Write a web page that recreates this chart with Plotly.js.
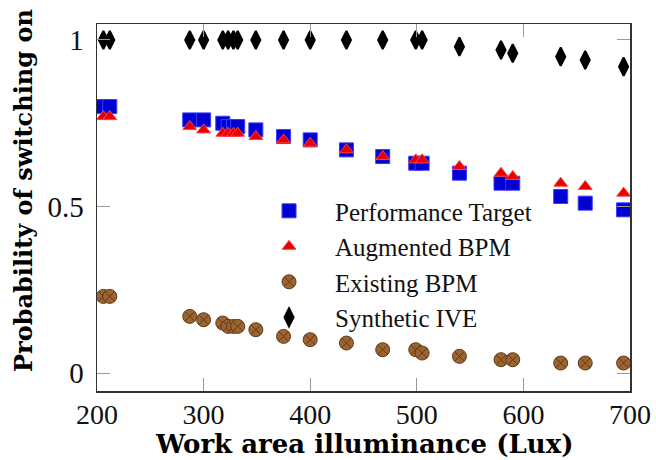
<!DOCTYPE html>
<html>
<head>
<meta charset="utf-8">
<script src="https://cdn.plot.ly/plotly-3.0.1.min.js"></script>
<style>html,body{margin:0;padding:0;background:#fff;}#chart{width:656px;height:460px;}</style>
</head>
<body>
<div id="chart"></div>
<script>
// Work area illuminance (Lux)
const lux = [206, 212, 287, 300, 318, 323, 328, 332, 349, 375, 400, 434, 468, 499, 505, 540, 579, 590, 635, 658, 694];
const performanceTarget = [0.80, 0.80, 0.76, 0.76, 0.75, 0.74, 0.74, 0.74, 0.73, 0.71, 0.70, 0.67, 0.65, 0.63, 0.63, 0.60, 0.57, 0.57, 0.53, 0.51, 0.49];
const augmentedBPM = [0.77, 0.77, 0.74, 0.73, 0.72, 0.72, 0.72, 0.72, 0.71, 0.70, 0.69, 0.67, 0.65, 0.64, 0.64, 0.62, 0.60, 0.59, 0.57, 0.56, 0.54];
const existingBPM = [0.23, 0.23, 0.17, 0.16, 0.15, 0.14, 0.14, 0.14, 0.13, 0.11, 0.10, 0.09, 0.07, 0.07, 0.06, 0.05, 0.04, 0.04, 0.03, 0.03, 0.03];
const syntheticIVE = [1.00, 1.00, 1.00, 1.00, 1.00, 1.00, 1.00, 1.00, 1.00, 1.00, 1.00, 1.00, 1.00, 1.00, 1.00, 0.98, 0.97, 0.96, 0.95, 0.94, 0.92];
const seriesNames = ['Performance Target', 'Augmented BPM', 'Existing BPM', 'Synthetic IVE'];
const xTicks = [200, 300, 400, 500, 600, 700];
const yTicks = [0, 0.5, 1];
const yTickText = ['0', '0.5', '1'];
const xTitle = 'Work area illuminance (Lux)';
const yTitle = 'Probability of switching on';

const serif = 'Liberation Serif, Times New Roman, serif';
const boldSerif = 'DejaVu Serif, serif';

const traces = [
  {x: lux, y: performanceTarget, name: seriesNames[0], mode: 'markers', type: 'scatter',
   marker: {symbol: 'square', size: 14, color: '#0000d2', line: {color: '#3a3aff', width: 1}}},
  {x: lux, y: augmentedBPM, name: seriesNames[1], mode: 'markers', type: 'scatter',
   marker: {symbol: 'triangle-up', size: 12, color: '#e60000', line: {color: '#ff4040', width: 1}}},
  {x: lux, y: existingBPM, name: seriesNames[2], mode: 'markers', type: 'scatter',
   marker: {symbol: 'circle-x', size: 14, color: '#9c6431', line: {color: '#5e3a18', width: 1}}},
  {x: lux, y: syntheticIVE, name: seriesNames[3], mode: 'markers', type: 'scatter',
   marker: {symbol: 'diamond-tall', size: 13, color: '#000000', line: {color: '#000000', width: 2}}}
];

const layout = {
  width: 656, height: 460,
  margin: {l: 97, r: 26, t: 24, b: 69, pad: 0},
  paper_bgcolor: '#fff', plot_bgcolor: '#fff',
  showlegend: true,
  legend: {x: 0.274, y: 0.553, xanchor: 'left', yanchor: 'top', bgcolor: 'rgba(0,0,0,0)', borderwidth: 0,
           font: {family: serif, size: 25, color: '#111'}, itemwidth: 82},
  xaxis: {
    range: [200, 700], tickvals: xTicks, ticktext: xTicks.map(String),
    ticks: 'inside', ticklen: 13, tickcolor: '#999', tickwidth: 1,
    showline: true, linecolor: '#333', linewidth: 1.5, mirror: 'ticks',
    showgrid: false, zeroline: false,
    tickfont: {family: serif, size: 28, color: '#111'},
    ticklabelstandoff: -2
  },
  yaxis: {
    range: [-0.054, 1.048], tickvals: yTicks, ticktext: yTickText,
    ticks: 'inside', ticklen: 13, tickcolor: '#999', tickwidth: 1,
    showline: true, linecolor: '#333', linewidth: 1.5, mirror: 'ticks',
    showgrid: false, zeroline: false,
    tickfont: {family: serif, size: 29, color: '#111'},
    ticklabelstandoff: 6
  },
  annotations: [
    {text: xTitle, xref: 'paper', yref: 'paper', x: (364 - 97) / 533, y: (391 - 460) / 367,
     xanchor: 'center', yanchor: 'bottom', showarrow: false, borderpad: 0,
     font: {family: boldSerif, size: 26, color: '#000', weight: 'bold'}},
    {text: yTitle, xref: 'paper', yref: 'paper', x: (24 - 97) / 533, y: (391 - 191) / 367,
     xanchor: 'center', yanchor: 'middle', textangle: -90, showarrow: false, borderpad: 0,
     font: {family: boldSerif, size: 24, color: '#000', weight: 'bold'}}
  ]
};

Plotly.newPlot('chart', traces, layout, {displayModeBar: false, staticPlot: true});
</script>
</body>
</html>
